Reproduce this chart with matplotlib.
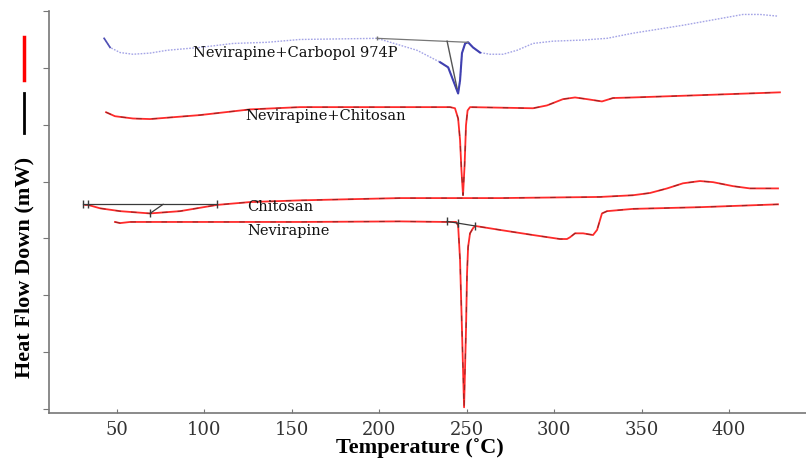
import matplotlib.pyplot as plt
from matplotlib.lines import Line2D
import numpy as np

# Nevirapine+Carbopol 974P
temp_cp = [42.9, 46.3, 52.0, 59.4, 69.1, 78.9, 97.7, 116.6, 136.0, 154.9, 177.7, 198.9,
           221.7, 234.9, 239.5, 243.5, 245.2, 246.3, 247.4, 249.2, 250.9, 253.7, 257.7,
           263.4, 270.9, 278.9, 288.0, 299.4, 316.6, 330.3, 345.1, 373.7, 408.0, 417.7, 428.0]
flow_cp = [6.52, 6.36, 6.27, 6.24, 6.26, 6.31, 6.36, 6.43, 6.45, 6.50, 6.51, 6.52,
           6.31, 6.10, 6.01, 5.69, 5.55, 5.78, 6.26, 6.43, 6.45, 6.36, 6.27,
           6.24, 6.24, 6.31, 6.43, 6.47, 6.49, 6.52, 6.61, 6.75, 6.94, 6.94, 6.91]

# Nevirapine+Chitosan
temp_nc = [44.0, 49.1, 59.4, 69.1, 97.7, 126.3, 154.9, 212.0, 240.6, 243.4, 245.2, 246.3,
           247.1, 248.0, 248.9, 249.7, 250.6, 252.0, 288.0, 296.0, 305.1, 312.0, 318.9,
           327.4, 333.7, 345.1, 383.4, 429.1]
flow_nc = [5.22, 5.15, 5.11, 5.10, 5.17, 5.27, 5.31, 5.31, 5.31, 5.29, 5.11, 4.73,
           4.20, 3.76, 4.29, 4.99, 5.25, 5.31, 5.29, 5.34, 5.45, 5.48, 5.45,
           5.41, 5.47, 5.48, 5.52, 5.57]

# Chitosan
temp_ch = [32.0, 33.7, 40.6, 52.0, 69.1, 86.3, 107.4, 126.3, 154.9, 212.0, 269.1, 326.3,
           345.1, 354.9, 364.6, 373.7, 383.4, 390.9, 402.3, 412.0, 428.0]
flow_ch = [3.59, 3.59, 3.53, 3.48, 3.44, 3.48, 3.59, 3.64, 3.67, 3.71, 3.71, 3.73,
           3.76, 3.80, 3.88, 3.97, 4.01, 3.99, 3.92, 3.88, 3.88]

# Nevirapine
temp_nv = [49.1, 52.0, 57.7, 97.7, 154.9, 212.0, 238.9, 244.0, 245.2, 246.3, 247.4, 248.6,
           249.7, 250.3, 250.9, 252.0, 253.7, 254.9, 269.1, 288.0, 303.4, 307.4, 309.1,
           312.0, 316.6, 322.3, 324.6, 327.4, 330.3, 345.1, 383.4, 428.0]
flow_nv = [3.29, 3.27, 3.29, 3.29, 3.29, 3.30, 3.29, 3.29, 3.23, 2.62, 1.39, 0.03,
           1.39, 2.39, 2.85, 3.09, 3.18, 3.22, 3.15, 3.06, 2.99, 2.99, 3.02,
           3.09, 3.09, 3.06, 3.15, 3.44, 3.48, 3.52, 3.55, 3.60]

# analysis construction lines (onset / baseline)
base_cp_t = [198.9, 250.9]
base_cp_h = [6.52, 6.45]
onset_cp_t = [238.9, 244.6]
onset_cp_h = [6.47, 5.64]
base_ch_t = [31.0, 107.4]
base_ch_h = [3.60, 3.60]
peak_ch_t = [69.1, 76.6]
peak_ch_h = [3.44, 3.60]
base_nv_t = [238.9, 254.9]
base_nv_h = [3.30, 3.22]

labels = ["Nevirapine+Carbopol 974P", "Nevirapine+Chitosan", "Chitosan", "Nevirapine"]
label_pos = [(93.7, 6.27), (123.4, 5.15), (124.6, 3.55), (124.6, 3.13)]

xticks = [50, 100, 150, 200, 250, 300, 350, 400]

red = "#ff2a2a"
dark = "#4a2020"

fig = plt.figure(figsize=(8.06, 4.62), dpi=100)
ax = fig.add_axes([0.0608, 0.1061, 0.9392, 0.870])

# blue curve: light dotted trace with solid darker parts
tc = np.array(temp_cp)
fc = np.array(flow_cp)
ax.plot(tc, fc, color="#a4a4e6", lw=1.0, ls=(0, (1.2, 1)))
m1 = tc <= 50
m2 = (tc >= 234) & (tc <= 262)
ax.plot(tc[m1], fc[m1], color="#5050b4", lw=1.2)
ax.plot(tc[m2], fc[m2], color="#4040b0", lw=1.5)

# red curves with dark overlay
for t, h in [(temp_nc, flow_nc), (temp_ch, flow_ch), (temp_nv, flow_nv)]:
    ax.plot(t, h, color=red, lw=1.3)
    ax.plot(t, h, color=dark, lw=0.8, ls=(0, (5, 9)), alpha=0.55)

# construction lines
gray = "#3a3a3a"
ax.plot(base_cp_t, base_cp_h, color="#777777", lw=0.9)
ax.plot(onset_cp_t, onset_cp_h, color="#555555", lw=1.0)
ax.plot(base_ch_t, base_ch_h, color=gray, lw=0.9)
ax.plot(peak_ch_t, peak_ch_h, color=gray, lw=0.9)
ax.plot(base_nv_t, base_nv_h, color=gray, lw=0.9)
ax.plot([base_ch_t[0], temp_ch[1], peak_ch_t[0], base_ch_t[1]],
        [base_ch_h[0], base_ch_h[0], peak_ch_h[0], base_ch_h[1]],
        ls="none", marker="|", ms=6, color=gray, mew=1)
ax.plot([base_nv_t[0], temp_nv[8], base_nv_t[1]],
        [base_nv_h[0], 3.28, base_nv_h[1]],
        ls="none", marker="|", ms=6, color=gray, mew=1)
ax.plot([base_cp_t[0]], [base_cp_h[0]], ls="none", marker="|", ms=3, color="#777777")

for txt, (x, y) in zip(labels, label_pos):
    ax.text(x, y, txt, fontsize=10.5, family="DejaVu Serif", color="#111111",
            ha="left", va="center")

ax.set_xlim(11.4, 444.0)
ax.set_ylim(-0.07, 7.0)
ax.set_xticks(xticks)
ax.set_yticks(range(8))
ax.tick_params(axis="x", direction="in", length=3, color="#777777", pad=6,
               labelsize=13, labelcolor="#333333")
ax.tick_params(axis="y", direction="out", length=4, color="#777777", labelleft=False)
for lab in ax.get_xticklabels():
    lab.set_family("DejaVu Serif")
for s in ["top", "right"]:
    ax.spines[s].set_visible(False)
for s in ["left", "bottom"]:
    ax.spines[s].set_color("#777777")
    ax.spines[s].set_linewidth(1.2)

fig.text(0.521, 0.030, "Temperature (˚C)", fontsize=16, fontweight="bold",
         family=["Liberation Serif", "DejaVu Serif"], ha="center", va="center")
fig.text(0.030, 0.422, "Heat Flow Down (mW)", fontsize=16, fontweight="bold",
         family=["Liberation Serif", "DejaVu Serif"], rotation=90,
         ha="center", va="center")
fig.add_artist(Line2D([0.030, 0.030], [0.712, 0.799], color="black", lw=2,
                      transform=fig.transFigure))
fig.add_artist(Line2D([0.030, 0.030], [0.827, 0.920], color="red", lw=2.5,
                      transform=fig.transFigure))

fig.savefig("out.png", dpi=100)
